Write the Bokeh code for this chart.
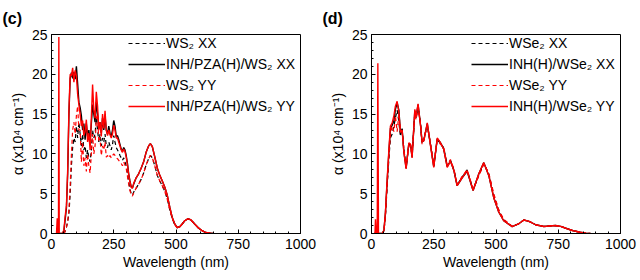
from bokeh.plotting import figure
from bokeh.layouts import row
from bokeh.models import Range1d, Legend, LegendItem, Title, FixedTicker
from bokeh.embed import file_html
from bokeh.resources import INLINE

# ---------------- panel (c): WS2 ----------------
wl_c = [20, 23, 26, 28, 29.5, 31,
        35, 40, 45, 50, 55, 60, 65, 70, 75, 80,
        85, 90, 95, 100, 105, 110, 115, 120, 125, 130,
        135, 140, 145, 150, 155, 160, 165, 170, 175, 180,
        185, 190, 195, 200, 205, 210, 215, 220, 225, 230,
        235, 240, 245, 250, 255, 260, 265, 270, 275, 280,
        285, 290, 295, 300, 305, 310, 315, 320, 325, 330,
        340, 350, 360, 370, 380, 390,
        397, 405, 415, 425, 435, 445, 455, 465, 475, 485, 495, 505, 515, 525, 535,
        548, 560, 575, 590, 605, 620, 640, 650]

c_ws2_xx = [0, 0, 0, 0, 0, 0,
            0, 0, 0, 0, 0.3, 0.8, 1.5, 2.5, 5.0, 8.5,
            10.8, 12.0, 11.5, 13.5, 12.0, 14.0, 12.5, 11.0, 12.5, 10.5,
            11.0, 9.5, 10.5, 9.5, 9.0, 10.5, 13.0, 12.0, 12.5, 14.5,
            13.0, 11.5, 12.5, 11.0, 12.0, 11.5, 12.5, 11.0, 10.8, 11.5,
            11.0, 10.5, 11.2, 12.3, 11.5, 10.8, 10.5, 10.2, 9.8, 9.5,
            9.2, 9.5, 9.0, 8.5, 7.5, 6.5, 5.6, 5.0, 4.8, 5.2,
            5.7, 6.2, 6.8, 7.6, 8.6, 9.4,
            9.8, 9.5, 8.5, 7.3, 6.6, 6.0, 5.3, 4.3, 3.0, 1.9, 1.1, 0.72, 0.85, 1.2, 1.6,
            1.85, 1.7, 1.2, 0.7, 0.35, 0.12, 0.02, 0]

c_inh_xx = [0, 0, 0, 0, 0, 0,
            0, 0, 0, 0.4, 1.8, 3.2, 7.5, 15.0, 19.5, 20.2,
            19.5, 20.3, 19.4, 21.0, 18.8, 16.5, 15.8, 14.8, 13.0, 13.8,
            11.8, 13.8, 12.2, 13.0, 11.5, 13.8, 16.2, 15.0, 14.0, 16.5,
            15.0, 13.2, 14.0, 12.6, 14.5, 13.0, 14.8, 13.0, 12.5, 13.5,
            12.6, 12.2, 13.0, 14.2, 13.5, 12.2, 12.3, 11.8, 11.2, 10.6,
            10.3, 10.8, 10.5, 9.8, 8.8, 7.5, 6.6, 5.9, 5.7, 6.2,
            7.0, 7.5, 8.2, 9.0, 10.2, 11.0,
            11.3, 10.9, 9.6, 8.2, 7.3, 6.6, 5.8, 4.8, 3.3, 2.0, 1.2, 0.75, 0.85, 1.2, 1.6,
            1.85, 1.7, 1.2, 0.7, 0.35, 0.12, 0.02, 0]

c_ws2_yy = [0, 0, 0, 0, 0, 0,
            0, 0, 0, 0, 0.3, 0.8, 1.5, 3.0, 6.0, 10.0,
            13.0, 14.0, 12.5, 14.8, 16.0, 13.0, 13.0, 9.0, 11.5, 8.5,
            9.5, 7.8, 10.0, 8.5, 7.6, 10.0, 12.5, 10.0, 11.0, 14.5,
            15.0, 11.5, 12.0, 9.8, 11.0, 10.5, 11.5, 9.6, 9.8, 9.5,
            9.8, 9.5, 9.8, 10.0, 9.8, 9.5, 9.4, 9.2, 9.0, 8.8,
            8.5, 9.0, 8.6, 8.2, 7.2, 6.2, 5.4, 4.9, 4.7, 5.1,
            5.7, 6.2, 6.8, 7.6, 8.6, 9.4,
            9.8, 9.5, 8.5, 7.3, 6.6, 6.0, 5.3, 4.3, 3.0, 1.9, 1.1, 0.72, 0.85, 1.2, 1.6,
            1.85, 1.7, 1.2, 0.7, 0.35, 0.12, 0.02, 0]

c_inh_yy = [0, 1.9, 0, 0, 24.7, 0,
            0, 0, 0, 0.5, 2.2, 3.5, 8.0, 15.5, 20.0, 19.8,
            20.8, 19.0, 20.5, 19.8, 17.5, 16.2, 15.0, 13.5, 14.2, 12.3,
            12.8, 14.3, 11.5, 12.6, 10.5, 14.5, 18.7, 15.5, 14.5, 17.8,
            16.0, 13.0, 14.0, 12.2, 15.0, 13.2, 15.4, 13.0, 12.3, 13.0,
            12.4, 12.0, 12.5, 13.6, 13.0, 12.0, 12.0, 11.5, 11.0, 10.5,
            10.2, 10.6, 10.3, 9.6, 8.6, 7.4, 6.5, 5.8, 5.7, 6.3,
            7.0, 7.5, 8.2, 9.0, 10.2, 11.0,
            11.3, 10.9, 9.6, 8.2, 7.3, 6.6, 5.8, 4.8, 3.3, 2.0, 1.2, 0.75, 0.85, 1.2, 1.6,
            1.85, 1.7, 1.2, 0.7, 0.35, 0.12, 0.02, 0]

# ---------------- panel (d): WSe2 ----------------
wl_d = [10, 14, 16, 19, 23, 25.5, 28,
        35, 43, 50, 56, 63, 70, 76, 83, 90, 96,
        103, 110, 116, 123, 130, 139, 150, 157, 163, 174,
        179, 187, 197, 203, 210, 224, 237, 250, 264, 277,
        290, 304, 317, 331, 344, 364, 384, 408, 431, 451,
        471, 491, 511, 531, 565, 590, 612, 635, 659, 692,
        715, 739, 760, 786, 810, 839, 860, 880]

d_wse2_xx = [0, 0, 0, 0, 0, 0, 0,
             0, 0, 0.3, 2.2, 6.0, 9.5, 12.0, 12.5, 13.5, 14.5,
             15.5, 14.0, 12.2, 13.2, 10.5, 8.3, 11.2, 11.0, 9.8, 15.2,
             14.5, 16.0, 13.8, 11.3, 11.8, 13.6, 11.2, 8.5, 11.8, 11.3,
             10.8, 8.5, 9.2, 8.0, 6.1, 7.1, 8.0, 5.5, 7.3, 8.8,
             7.5, 4.8, 2.9, 1.7, 0.9, 1.2, 1.7, 1.5, 1.1, 0.88,
             0.95, 1.0, 0.9, 0.6, 0.35, 0.15, 0.05, 0]

d_inh_xx = [0, 0, 0, 0, 0, 0, 0,
            0, 0, 0.4, 2.6, 6.6, 10.3, 13.2, 13.6, 14.2, 15.6,
            16.4, 15.5, 12.8, 13.1, 10.3, 8.2, 11.3, 11.1, 9.6, 15.4,
            14.6, 16.2, 13.6, 11.5, 11.7, 13.8, 11.1, 8.4, 11.9, 11.4,
            10.6, 8.4, 9.1, 7.9, 6.0, 7.0, 7.8, 5.4, 7.5, 8.9,
            7.3, 4.5, 2.7, 1.6, 0.87, 1.2, 1.7, 1.5, 1.1, 0.88,
            0.95, 1.0, 0.9, 0.6, 0.35, 0.15, 0.05, 0]

d_wse2_yy = [0, 0, 0, 0, 0, 0, 0,
             0, 0, 0.3, 2.3, 6.3, 9.8, 12.5, 13.5, 12.8, 14.8,
             12.8, 15.0, 13.0, 12.8, 10.6, 8.4, 11.0, 11.0, 9.8, 15.0,
             14.3, 15.8, 13.8, 11.2, 12.0, 13.5, 11.3, 8.6, 11.7, 11.2,
             10.8, 8.6, 9.3, 8.1, 6.1, 7.2, 8.0, 5.6, 7.2, 8.7,
             7.6, 5.0, 3.0, 1.8, 0.9, 1.2, 1.7, 1.5, 1.1, 0.88,
             0.95, 1.0, 0.9, 0.6, 0.35, 0.15, 0.05, 0]

d_inh_yy = [0, 0, 1.8, 0, 0, 21.4, 0,
            0, 0, 0.4, 2.7, 6.9, 10.6, 13.5, 13.9, 14.8, 16.0,
            16.6, 15.2, 12.7, 13.0, 10.2, 8.1, 11.4, 11.2, 9.5, 15.6,
            14.7, 16.3, 13.5, 11.6, 11.6, 13.9, 11.0, 8.3, 12.0, 11.4,
            10.6, 8.3, 9.1, 7.9, 6.0, 7.0, 7.9, 5.4, 7.5, 8.9,
            7.3, 4.5, 2.7, 1.6, 0.87, 1.2, 1.7, 1.5, 1.1, 0.88,
            0.95, 1.0, 0.9, 0.6, 0.35, 0.15, 0.05, 0]

labels_c = ["WS\u2082 XX", "INH/PZA(H)/WS\u2082 XX", "WS\u2082 YY", "INH/PZA(H)/WS\u2082 YY"]
labels_d = ["WSe\u2082 XX", "INH(H)/WSe\u2082 XX", "WSe\u2082 YY", "INH(H)/WSe\u2082 YY"]
panel_c_tag = "(c)"
panel_d_tag = "(d)"
x_ticks = [0, 250, 500, 750, 1000]
y_ticks = [0, 5, 10, 15, 20, 25]

FONT = "Liberation Sans"


def make_panel(wl, series, labels, tag, legend_x):
    p = figure(width=320, height=280, output_backend="svg", toolbar_location=None,
               x_range=Range1d(0, 1000), y_range=Range1d(0, 25),
               min_border_left=51, min_border_right=20,
               min_border_top=33, min_border_bottom=47)
    p.grid.visible = False
    p.outline_line_color = "black"
    p.outline_line_width = 1
    p.background_fill_color = "white"
    p.border_fill_color = "white"

    for ax in (p.xaxis[0], p.yaxis[0]):
        ax.major_tick_in = 4
        ax.major_tick_out = 0
        ax.minor_tick_in = 2
        ax.minor_tick_out = 0
        ax.major_label_text_font = FONT
        ax.major_label_text_font_size = "14px"
        ax.major_label_text_color = "black"
        ax.axis_label_text_font = FONT
        ax.axis_label_text_font_size = "14px"
        ax.axis_label_text_font_style = "normal"
        ax.axis_label_text_color = "black"
        ax.axis_line_color = "black"
        ax.major_tick_line_color = "black"
        ax.minor_tick_line_color = "black"
    p.xaxis[0].ticker = FixedTicker(ticks=x_ticks,
                                    minor_ticks=list(range(0, 1001, 50)))
    p.yaxis[0].ticker = FixedTicker(ticks=y_ticks, minor_ticks=list(range(0, 26)))
    p.xaxis[0].axis_label = "Wavelength (nm)"
    p.yaxis[0].axis_label = "\u03b1 (x10\u2074 cm\u207b\u00b9)"
    p.xaxis[0].major_label_standoff = 5
    p.xaxis[0].axis_label_standoff = 2
    p.yaxis[0].major_label_standoff = 4
    p.yaxis[0].axis_label_standoff = 3

    styles = [("black", "4 3", 1.2), ("black", "solid", 1.4),
              ("red", "4 3", 1.2), ("red", "solid", 1.4)]
    items = []
    for vals, lab, (col, dash, lw) in zip(series, labels, styles):
        r = p.line(wl, vals, line_color=col, line_dash=dash, line_width=lw)
        items.append(LegendItem(label=lab, renderers=[r]))

    leg = Legend(items=items, location=(legend_x, 117))
    leg.label_text_font = FONT
    leg.label_text_font_size = "14px"
    leg.label_text_color = "black"
    leg.glyph_width = 37
    leg.glyph_height = 20
    leg.label_height = 20
    leg.spacing = 1
    leg.label_standoff = 1
    leg.padding = 0
    leg.margin = 0
    leg.border_line_color = None
    leg.background_fill_alpha = 0
    p.add_layout(leg, "center")

    t = Title(text=tag, align="left", offset=-49, text_font=FONT,
              text_font_size="16px", text_font_style="bold", text_color="black",
              standoff=15)
    p.add_layout(t, "above")
    return p


p1 = make_panel(wl_c, [c_ws2_xx, c_inh_xx, c_ws2_yy, c_inh_yy], labels_c, panel_c_tag, 77)
p2 = make_panel(wl_d, [d_wse2_xx, d_inh_xx, d_wse2_yy, d_inh_yy], labels_d, panel_d_tag, 100)

layout = row(p1, p2)
open("out.html", "w").write(file_html(layout, INLINE))
